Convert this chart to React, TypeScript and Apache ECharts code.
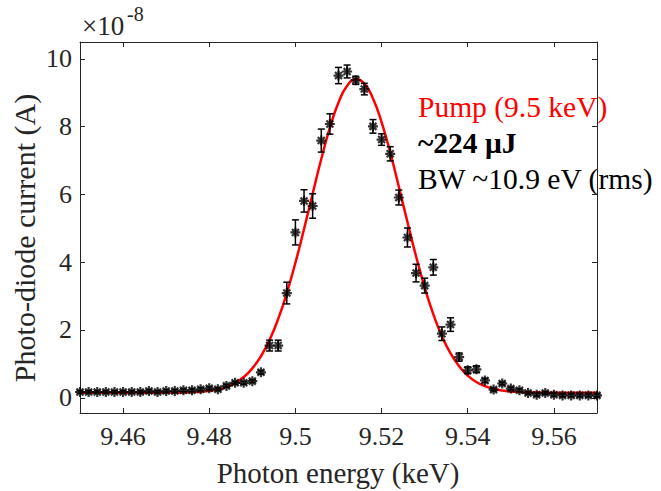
import React, { useEffect, useRef } from "react";
import * as echarts from "echarts";

const energyKeV = [
  9.45, 9.452, 9.454, 9.456, 9.458, 9.46, 9.462, 9.464, 9.466, 9.468,
  9.47, 9.472, 9.474, 9.476, 9.478, 9.48, 9.482, 9.484, 9.486, 9.488,
  9.49, 9.492, 9.494, 9.496, 9.498, 9.5, 9.502, 9.504, 9.506, 9.508,
  9.51, 9.512, 9.514, 9.516, 9.518, 9.52, 9.522, 9.524, 9.526, 9.528,
  9.53, 9.532, 9.534, 9.536, 9.538, 9.54, 9.542, 9.544, 9.546, 9.548,
  9.55, 9.552, 9.554, 9.556, 9.558, 9.56, 9.562, 9.564, 9.566, 9.568, 9.57,
];
const currentE8 = [
  0.17, 0.17, 0.17, 0.17, 0.17, 0.17, 0.17, 0.17, 0.2, 0.17,
  0.2, 0.2, 0.22, 0.22, 0.25, 0.28, 0.25, 0.35, 0.44, 0.44,
  0.49, 0.75, 1.54, 1.54, 3.09, 4.88, 5.81, 5.66, 7.59, 8.08,
  9.51, 9.63, 9.37, 9.11, 8.01, 7.62, 7.2, 5.91, 4.73, 3.68,
  3.31, 3.85, 1.89, 2.16, 1.2, 0.81, 0.84, 0.51, 0.24, 0.42,
  0.27, 0.22, 0.14, 0.09, 0.14, 0.09, 0.07, 0.07, 0.07, 0.07, 0.07,
];
const errorE8 = [
  0.04, 0.04, 0.04, 0.04, 0.04, 0.04, 0.04, 0.04, 0.04, 0.04,
  0.04, 0.04, 0.04, 0.04, 0.04, 0.04, 0.04, 0.04, 0.04, 0.04,
  0.04, 0.05, 0.16, 0.16, 0.32, 0.37, 0.33, 0.36, 0.34, 0.3,
  0.24, 0.19, 0.12, 0.17, 0.2, 0.17, 0.21, 0.22, 0.28, 0.26,
  0.22, 0.23, 0.2, 0.2, 0.12, 0.1, 0.1, 0.06, 0.04, 0.04,
  0.04, 0.04, 0.04, 0.04, 0.04, 0.04, 0.04, 0.04, 0.04, 0.04, 0.04,
];
const fitE8 = [
  0.15, 0.15, 0.15, 0.15, 0.15, 0.15, 0.15, 0.15, 0.151, 0.151,
  0.152, 0.154, 0.158, 0.166, 0.18, 0.206, 0.25, 0.322, 0.437, 0.612,
  0.867, 1.225, 1.707, 2.327, 3.091, 3.985, 4.979, 6.023, 7.046, 7.97,
  8.714, 9.207, 9.398, 9.27, 8.835, 8.136, 7.242, 6.231, 5.186, 4.177,
  3.259, 2.469, 1.82, 1.311, 0.93, 0.655, 0.466, 0.341, 0.262, 0.213,
  0.184, 0.168, 0.159, 0.155, 0.152, 0.151, 0.15, 0.15, 0.15, 0.15, 0.15,
];

const xTickValues = [9.46, 9.48, 9.5, 9.52, 9.54, 9.56];
const yTickValues = [0, 2, 4, 6, 8, 10];

const SERIF = "Liberation Serif";
const AXIS_COLOR = "#262626";

function txt(text: string, x: number, y: number, size: number, fill: string, extra: any = {}) {
  const weight = extra.bold ? "bold " : "";
  return {
    type: "text",
    x,
    y,
    ...(extra.rotation !== undefined ? { rotation: extra.rotation } : {}),
    style: {
      text,
      font: `${weight}${size}px ${SERIF}`,
      fill,
      textAlign: extra.align || "left",
      textVerticalAlign: "middle",
    },
  };
}

export default function App() {
  const ref = useRef<HTMLDivElement>(null);

  useEffect(() => {
    if (!ref.current) return;
    const chart = echarts.init(ref.current, undefined, { renderer: "svg" });

    const points = energyKeV.map((e, i) => [e, currentE8[i]]);
    const errs = energyKeV.map((e, i) => [e, currentE8[i], errorE8[i]]);
    const fit = energyKeV.map((e, i) => [e, fitE8[i]]);

    const baseX = {
      type: "value",
      min: 9.45,
      max: 9.57,
      splitLine: { show: false },
      axisLine: { show: true, onZero: false, lineStyle: { color: AXIS_COLOR, width: 1 } },
      axisTick: { show: true, inside: true, length: 5, customValues: xTickValues, lineStyle: { color: AXIS_COLOR, width: 1 } },
    };
    const baseY = {
      type: "value",
      min: -0.45,
      max: 10.5,
      splitLine: { show: false },
      axisLine: { show: true, onZero: false, lineStyle: { color: AXIS_COLOR, width: 1 } },
      axisTick: { show: true, inside: true, length: 5, customValues: yTickValues, lineStyle: { color: AXIS_COLOR, width: 1 } },
    };

    const option: any = {
      animation: false,
      backgroundColor: "#ffffff",
      textStyle: { fontFamily: SERIF },
      grid: { left: 80, right: 64, top: 42, bottom: 78, containLabel: false },
      xAxis: [
        {
          ...baseX,
          position: "bottom",
          axisLabel: {
            customValues: xTickValues,
            formatter: (v: number) => String(Number(v.toFixed(2))),
            fontFamily: SERIF,
            fontSize: 26,
            color: AXIS_COLOR,
            margin: 10,
          },
        },
        { ...baseX, position: "top", axisLabel: { show: false } },
      ],
      yAxis: [
        {
          ...baseY,
          position: "left",
          axisLabel: {
            customValues: yTickValues,
            formatter: (v: number) => String(v),
            fontFamily: SERIF,
            fontSize: 26,
            color: AXIS_COLOR,
            margin: 8,
          },
        },
        { ...baseY, position: "right", axisLabel: { show: false } },
      ],
      series: [
        {
          type: "line",
          data: fit,
          smooth: true,
          showSymbol: false,
          lineStyle: { color: "#ff0000", width: 2.5 },
          z: 2,
        },
        {
          type: "custom",
          data: errs,
          encode: { x: 0, y: 1 },
          z: 3,
          renderItem: (params: any, api: any) => {
            const x = api.value(0);
            const y = api.value(1);
            const e = api.value(2);
            const top = api.coord([x, y + e]);
            const bot = api.coord([x, y - e]);
            const cap = 3.5;
            const style = { stroke: "#000", lineWidth: 1.5 };
            return {
              type: "group",
              children: [
                { type: "line", shape: { x1: top[0], y1: top[1], x2: bot[0], y2: bot[1] }, style },
                { type: "line", shape: { x1: top[0] - cap, y1: top[1], x2: top[0] + cap, y2: top[1] }, style },
                { type: "line", shape: { x1: bot[0] - cap, y1: bot[1], x2: bot[0] + cap, y2: bot[1] }, style },
              ],
            };
          },
        },
        {
          type: "scatter",
          data: points,
          symbol: "path://M5,0L5,10M0,5L10,5M1.5,1.5L8.5,8.5M1.5,8.5L8.5,1.5",
          symbolSize: 10,
          itemStyle: { color: "rgba(0,0,0,0)", borderColor: "#000", borderWidth: 2.2 },
          z: 4,
        },
      ],
      graphic: [
        txt("×10", 82, 26, 27, AXIS_COLOR),
        txt("-8", 127, 14, 20, AXIS_COLOR),
        txt("Photo-diode current (A)", 24, 238, 30, AXIS_COLOR, { rotation: Math.PI / 2, align: "center" }),
        txt("Photon energy (keV)", 338, 473, 29, AXIS_COLOR, { align: "center" }),
        txt("Pump (9.5 keV)", 418, 107, 29.5, "#ff0000"),
        txt("~224 μJ", 418, 143, 29.5, "#000000", { bold: true }),
        txt("BW ~10.9 eV (rms)", 418, 179, 29.5, "#000000"),
      ],
    };

    chart.setOption(option);
    return () => chart.dispose();
  }, []);

  return (
    <div ref={ref} style={{ position: "fixed", left: 0, top: 0, width: 661, height: 491, background: "#fff" }} />
  );
}
